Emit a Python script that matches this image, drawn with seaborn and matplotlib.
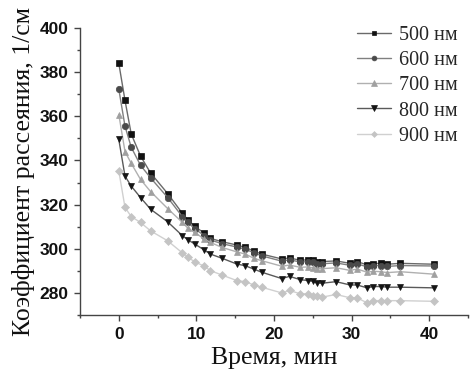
import matplotlib
matplotlib.use("Agg")
import matplotlib.pyplot as plt
import seaborn as sns
import pandas as pd
from matplotlib.ticker import MultipleLocator

time_min = [0, 0.8, 1.6, 2.8, 4.1, 6.3, 8.2, 8.9, 9.8, 11.0, 11.8, 13.3, 15.2, 16.3,
            17.4, 18.4, 21.0, 22.0, 23.4, 24.4, 25.0, 25.5, 26.2, 28.0, 29.8, 30.7,
            32.0, 32.8, 33.8, 34.6, 36.3, 40.6]

s500 = [384, 367.2, 352, 342, 334.3, 325, 316, 313.1, 310.1, 307.1, 304.7, 303.2, 301.7,
        300.6, 299, 297.6, 295.4, 295.8, 294.8, 295.0, 294.7, 294.2, 294.2, 294.5, 293.4,
        294.2, 292.7, 293.3, 293.4, 293.0, 293.4, 293.0]
s600 = [372.3, 355.5, 346, 337.8, 332.1, 323.2, 314.5, 312, 309, 306, 304, 302.3, 300.8,
        299.8, 298.2, 296.8, 294.4, 295, 294, 294.2, 293.8, 293.3, 293.2, 293.6, 292.5,
        293.2, 291.8, 292.4, 292.4, 292.0, 292.4, 292.2]
s700 = [360.8, 344, 338.7, 331.4, 325.9, 318.2, 311.9, 309.3, 307.4, 304.4, 302.9, 300.6,
        298.6, 297.6, 295.7, 294.6, 292.1, 292.6, 291.6, 291.8, 291.4, 291, 291, 291.4,
        290.2, 290.8, 289.4, 289.8, 289.6, 289.2, 289.6, 288.5]
s800 = [349.5, 332.9, 328.4, 323.2, 317.9, 312.2, 305.9, 304.1, 302.1, 299.5, 297.6, 295.7,
        293.1, 292.3, 290.8, 289.4, 286.5, 287.5, 286, 285.6, 285.3, 284.5, 284.4, 285.1,
        283.6, 283.6, 282.3, 282.9, 282.9, 282.6, 282.6, 282.3]
s900 = [335.2, 318.7, 314.6, 311.9, 308.1, 303.6, 298.1, 296.1, 294.1, 292.1, 290.1, 288.1,
        285.6, 285.1, 283.6, 282.6, 280.0, 281.1, 279.6, 279.6, 278.8, 278.5, 278.1, 279.3,
        277.8, 277.8, 275.5, 276.5, 276.5, 276.5, 276.5, 276.2]

labels = ["500 нм", "600 нм", "700 нм", "800 нм", "900 нм"]
series = [s500, s600, s700, s800, s900]
markers = ["s", "o", "^", "v", "D"]
marker_colors = ["#111111", "#4a4a4a", "#a0a0a0", "#151515", "#c4c4c4"]
line_colors = ["#6a6a6a", "#808080", "#b0b0b0", "#5a5a5a", "#d0d0d0"]
marker_sizes = [4.6, 4.6, 5.0, 5.0, 4.0]

sns.set_style("ticks")

fig = plt.figure(figsize=(4.73, 3.82), dpi=100)
ax = fig.add_axes([80 / 473, 1 - 315 / 382, 388 / 473, 287 / 382])

for lab, vals, m, mc, lc, ms in zip(labels, series, markers, marker_colors, line_colors, marker_sizes):
    df = pd.DataFrame({"t": time_min, "v": vals})
    sns.lineplot(data=df, x="t", y="v", ax=ax, color=lc, lw=1.0, marker=m,
                 markersize=ms, markerfacecolor=mc, markeredgecolor=mc,
                 markeredgewidth=0.5, label=lab)

ax.set_xlim(-5, 45)
ax.set_ylim(270, 400)
ax.xaxis.set_major_locator(MultipleLocator(10))
ax.xaxis.set_minor_locator(MultipleLocator(5))
ax.yaxis.set_major_locator(MultipleLocator(20))
ax.yaxis.set_minor_locator(MultipleLocator(10))
ax.set_yticks([280, 300, 320, 340, 360, 380, 400])

for side in ["top", "right"]:
    ax.spines[side].set_visible(False)
for side in ["left", "bottom"]:
    ax.spines[side].set_color("#444444")
    ax.spines[side].set_linewidth(1.0)

ax.tick_params(which="major", direction="out", length=4.5, width=1, color="#444444", pad=4)
ax.tick_params(which="minor", direction="out", length=2.5, width=1, color="#444444")
for tl in ax.get_xticklabels() + ax.get_yticklabels():
    tl.set_fontfamily("Liberation Sans")
    tl.set_fontweight("bold")
    tl.set_fontsize(12.5)
    tl.set_color("#111111")

ax.set_xlabel("Время, мин", fontfamily="Liberation Serif", fontsize=18.5, color="#111111", labelpad=4)
ax.set_ylabel("Коэффициент рассеяния, 1/см", fontfamily="Liberation Serif", fontsize=18.5,
              color="#111111", labelpad=3)

leg = ax.legend(loc="upper right", frameon=False, numpoints=1, handlelength=1.7,
                handletextpad=0.4, labelspacing=0.3, borderaxespad=0.0, markerscale=0.75,
                bbox_to_anchor=(0.995, 1.035),
                prop={"family": "Liberation Serif", "size": 14.5})

fig.savefig("out.png", dpi=100)
